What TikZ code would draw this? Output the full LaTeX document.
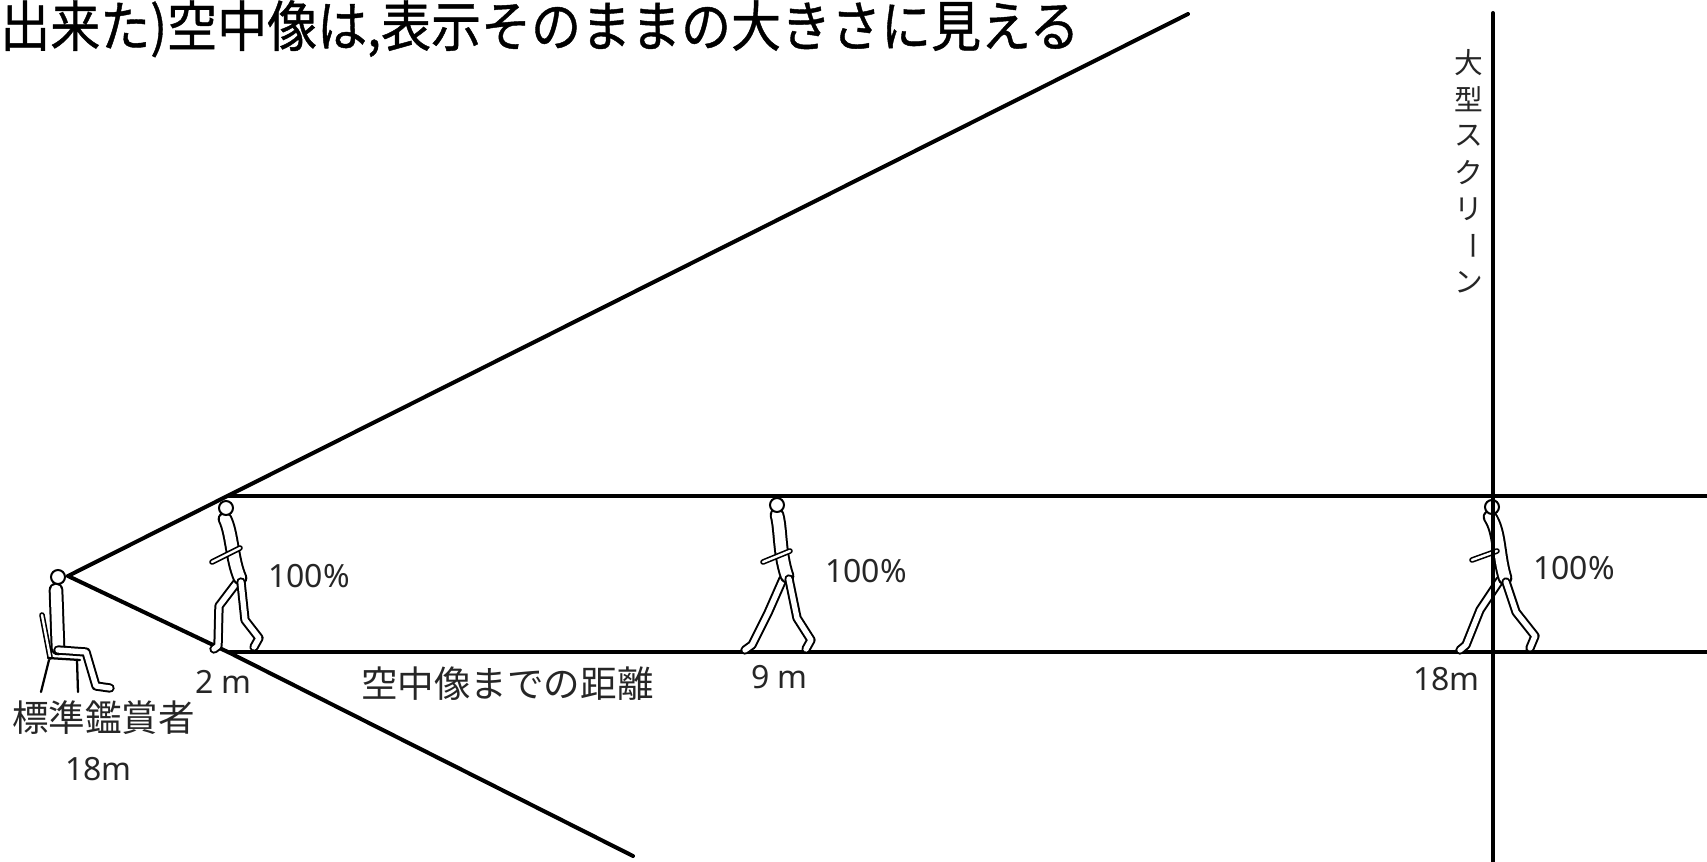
\documentclass[tikz,border=0pt]{standalone}
\usepackage{fontspec}
\newfontfamily\jpfont{Noto Sans CJK JP}
\newfontfamily\jptitle[FakeBold=0.8]{Noto Sans CJK JP}
\newfontfamily\latinfont{Noto Sans}
\begin{document}
\begin{tikzpicture}[x=0.75pt,y=-0.75pt,
  mainline/.style={line width=3pt, line cap=round},
  limb/.style={double, line width=1.5pt, double distance=4pt, line cap=round, line join=round},
  trunk/.style={double, line width=1.5pt, double distance=8pt, line cap=round, line join=round},
  thinlimb/.style={double, line width=1.2pt, double distance=1.8pt, line cap=round, line join=round},
  stick/.style={line width=1.7pt, line cap=round},
  headc/.style={draw, circle, line width=1.5pt, fill=white, minimum size=10.5pt, inner sep=0pt},
  pct/.style={font=\latinfont\fontsize{24}{24}\selectfont, text=black!85, inner sep=0pt, anchor=base west},
  jp/.style={font=\jpfont\fontsize{27.4}{30}\selectfont, text=black!85, inner sep=0pt, anchor=west},
  vjp/.style={font=\jpfont\fontsize{21.5}{22}\selectfont, text=black!85, inner sep=0pt},
]
\useasboundingbox (0,0) rectangle (1707,862);

% key points
\coordinate (eye) at (68,576);
\coordinate (upEnd) at (1188,14);
\coordinate (floorHit) at (230,653);
\coordinate (lowEnd) at (633,856);
\coordinate (topL) at (229,496);
\coordinate (topR) at (1707,496);
\coordinate (botL) at (230,652);
\coordinate (botR) at (1707,652);
\coordinate (scrTop) at (1493,13);
\coordinate (scrBot) at (1493,862);

% title line
\node[font=\jptitle\fontsize{37.5}{40}\selectfont, inner sep=0pt, anchor=north west] (title) at (0,0)
  {\scalebox{1}[1.1]{出来た)空中像は,表示そのままの大きさに見える}};

% viewing cone and floor/ceiling lines
\draw[mainline] (eye) -- (upEnd);
\draw[mainline] (eye) -- (floorHit) -- (lowEnd);
\draw[mainline] (topL) -- (topR);
\draw[mainline] (botL) -- (botR);

% seated viewer
\draw[thinlimb] (42,615) -- (50,657);
\draw[stick] (48,658) -- (80,660);
\draw[stick] (49,660) -- (41,692);
\draw[stick] (77,660) -- (78,692);
\draw[trunk] (56,590) -- (58,648);
\draw[limb] (58,650) -- (86,652) -- (96,686) -- (110,688);
\node[headc] (h0) at (58,577) {};

% walker at 2 m
\draw[limb] (238,581) -- (219,606) -- (218,646) -- (214,649);
\draw[trunk] (225,519) .. controls (232,533) and (232,560) .. (240,578);
\draw[limb] (241,582) -- (245,620) -- (259,638) -- (254,647);
\draw[thinlimb] (212,562) -- (240,548);
\node[headc] (h1) at (226,508) {};

% walker at 9 m
\draw[limb] (783,579) -- (768,613) -- (752,645) -- (745,650);
\draw[trunk] (777,515) .. controls (781,530) and (779,552) .. (787,576);
\draw[limb] (789,579) -- (797,618) -- (811,640) -- (806,649);
\draw[thinlimb] (763,562) -- (790,551);
\node[headc] (h2) at (777,505) {};

% walker at 18 m
\draw[limb] (1500,580) -- (1480,610) -- (1466,645) -- (1460,650);
\draw[trunk] (1490,517) .. controls (1500,532) and (1498,555) .. (1505,578);
\draw[limb] (1506,582) -- (1516,612) -- (1535,636) -- (1530,648);
\draw[thinlimb] (1472,560) -- (1497,551);
\node[headc] (h3) at (1492,507) {};

% large screen
\draw[mainline] (scrTop) -- (scrBot);
\foreach \ch [count=\i] in {大,型,ス,ク,リ,ー,ン}{
  \pgfmathsetmacro{\yy}{63+36.5*(\i-1)}
  \ifnum\i=6
    \node[vjp] (v\i) at (1469,\yy) {\rotatebox[origin=c]{-90}{\ch}};
  \else
    \node[vjp] (v\i) at (1469,\yy) {\ch};
  \fi
}

% labels
\node[pct] (p1) at (268,588) {100\%};
\node[pct] (p2) at (825,583) {100\%};
\node[pct] (p3) at (1533,580) {100\%};
\node[pct] (d2) at (195,693) {2 m};
\node[pct] (d9) at (751,688) {9 m};
\node[pct] (d18) at (1413,691) {18m};
\node[pct] (vd) at (65,780) {18m};
\node[jp] (dist) at (361,684) {空中像までの距離};
\node[jp] (viewer) at (12,718) {標準鑑賞者};
\end{tikzpicture}
\end{document}
